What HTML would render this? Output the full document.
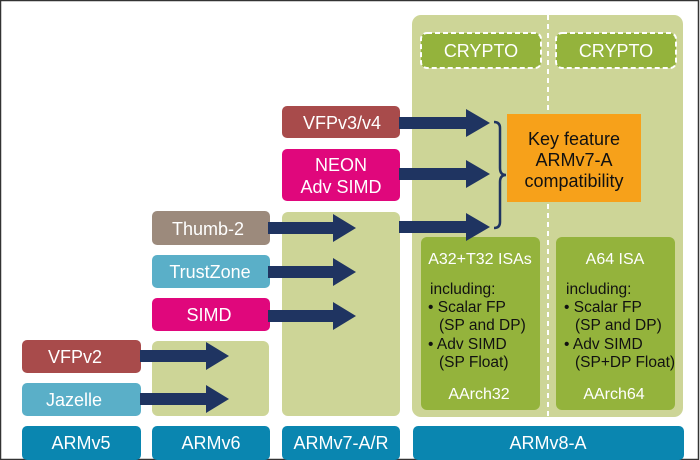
<!DOCTYPE html>
<html><head><style>
html,body{margin:0;padding:0;background:#fff}
svg{display:block}
text{font-family:"Liberation Sans",Arial,sans-serif}
</style></head><body>
<svg width="700" height="460" viewBox="0 0 700 460" xmlns="http://www.w3.org/2000/svg">
<rect x="0" y="0" width="700" height="460" fill="#fff"/>
<rect x="0.5" y="0.5" width="698" height="459" fill="none" stroke="#333" stroke-width="1.5"/>
<rect x="412" y="15" width="271" height="402" rx="9" fill="#cdd597"/>
<line x1="548" y1="15" x2="548" y2="417" stroke="#fff" stroke-width="2" stroke-dasharray="5,4"/>
<rect x="152" y="341" width="117" height="75" rx="6" fill="#cdd597"/>
<rect x="282" y="212" width="118" height="204" rx="6" fill="#cdd597"/>
<rect x="421" y="33" width="120" height="35" rx="6" fill="#94b33c" stroke="#fff" stroke-width="2" stroke-dasharray="5,3"/>
<rect x="556" y="33" width="120" height="35" rx="6" fill="#94b33c" stroke="#fff" stroke-width="2" stroke-dasharray="5,3"/>
<text x="481" y="57" font-size="18" fill="#fff" text-anchor="middle">CRYPTO</text>
<text x="616" y="57" font-size="18" fill="#fff" text-anchor="middle">CRYPTO</text>
<rect x="507" y="114" width="134" height="88" fill="#f7a11a"/>
<text x="574" y="145" font-size="18" fill="#111" text-anchor="middle">Key feature</text>
<text x="574" y="166" font-size="18" fill="#111" text-anchor="middle">ARMv7-A</text>
<text x="574" y="187" font-size="18" fill="#111" text-anchor="middle">compatibility</text>
<path d="M494,122 Q500,122 500,128 L500,168 Q500,175 506,175 Q500,175 500,182 L500,222 Q500,228 494,228" fill="none" stroke="#1f3461" stroke-width="2.5"/>
<rect x="421" y="237" width="119" height="173" rx="6" fill="#94b33c"/>
<rect x="556" y="237" width="119" height="173" rx="6" fill="#94b33c"/>
<g fill="#fff" font-size="16">
<text x="480" y="264" text-anchor="middle">A32+T32 ISAs</text>
<text x="615" y="264" text-anchor="middle">A64 ISA</text>
<text x="479" y="399" text-anchor="middle">AArch32</text>
<text x="614" y="399" text-anchor="middle">AArch64</text>
</g>
<g fill="#111" font-size="15.5">
<text x="430" y="294">including:</text>
<text x="428" y="312">• Scalar FP</text>
<text x="439" y="330">(SP and DP)</text>
<text x="428" y="349">• Adv SIMD</text>
<text x="439" y="367">(SP Float)</text>
<text x="566" y="294">including:</text>
<text x="564" y="312">• Scalar FP</text>
<text x="575" y="330">(SP and DP)</text>
<text x="564" y="349">• Adv SIMD</text>
<text x="575" y="367">(SP+DP Float)</text>
</g>
<g fill="#0a86b0">
<rect x="22" y="426" width="119" height="34" rx="5"/>
<rect x="152" y="426" width="118" height="34" rx="5"/>
<rect x="282" y="426" width="118" height="34" rx="5"/>
<rect x="413" y="426" width="271" height="34" rx="5"/>
</g>
<g fill="#fff" font-size="18" text-anchor="middle">
<text x="81" y="449">ARMv5</text>
<text x="211" y="449">ARMv6</text>
<text x="341" y="449">ARMv7-A/R</text>
<text x="548" y="449">ARMv8-A</text>
</g>
<rect x="22" y="340" width="119" height="33" rx="5" fill="#a84b4b"/>
<rect x="22" y="383" width="119" height="33" rx="5" fill="#5aafc8"/>
<rect x="152" y="211" width="118" height="34" rx="5" fill="#9c8a7c"/>
<rect x="152" y="255" width="118" height="33" rx="5" fill="#5aafc8"/>
<rect x="152" y="298" width="118" height="33" rx="5" fill="#e0077c"/>
<rect x="282" y="106" width="118" height="32" rx="5" fill="#a84b4b"/>
<rect x="282" y="149" width="118" height="52" rx="5" fill="#e0077c"/>
<g fill="#fff" font-size="18" text-anchor="middle">
<text x="75" y="363">VFPv2</text>
<text x="74" y="406">Jazelle</text>
<text x="208" y="235">Thumb-2</text>
<text x="210" y="278">TrustZone</text>
<text x="209" y="321">SIMD</text>
<text x="342" y="129">VFPv3/v4</text>
<text x="341" y="171">NEON</text>
<text x="341" y="193">Adv SIMD</text>
</g>
<g fill="#1f3461">
<path d="M140,350 H206 V342 L229,356 L206,370 V362 H140 Z"/>
<path d="M140,393 H206 V385 L229,399 L206,413 V405 H140 Z"/>
<path d="M268,222 H333 V214 L356,228 L333,242 V234 H268 Z"/>
<path d="M268,266 H333 V258 L356,272 L333,286 V278 H268 Z"/>
<path d="M268,310 H333 V302 L356,316 L333,330 V322 H268 Z"/>
<path d="M399,117 H466 V109 L490,123 L466,137 V129 H399 Z"/>
<path d="M399,168 H466 V160 L490,174 L466,188 V180 H399 Z"/>
<path d="M399,221 H466 V213 L490,227 L466,241 V233 H399 Z"/>
</g>
</svg>
</body></html>
